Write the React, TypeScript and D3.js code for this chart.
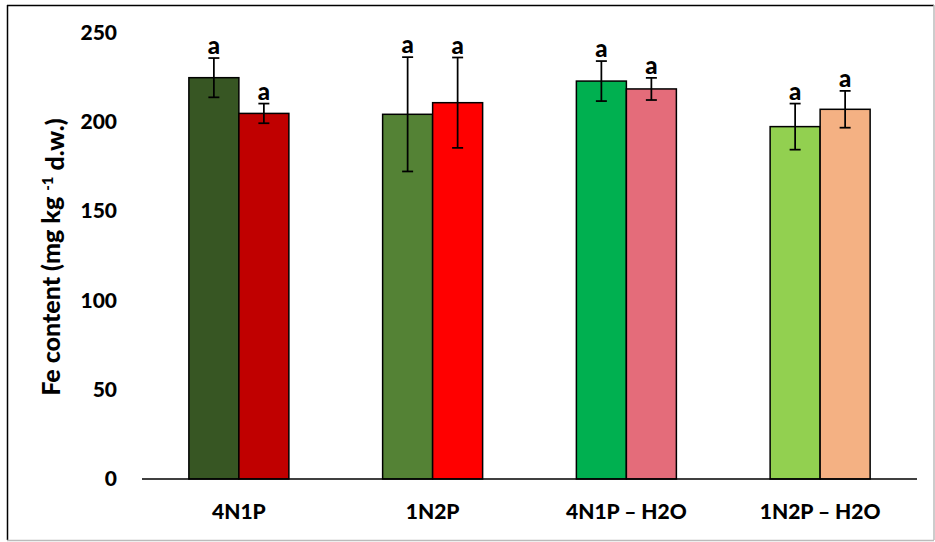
import {useEffect, useRef} from "react";
import * as d3 from "d3";

const categories = ["4N1P", "1N2P", "4N1P – H2O", "1N2P – H2O"];
const valuesA = [224.7, 204.2, 222.8, 197.3];
const errorsA = [11, 32, 11.2, 12.9];
const valuesB = [204.7, 210.7, 218.4, 207];
const errorsB = [5.5, 25.3, 6.2, 10.3];
const lettersA = ["a", "a", "a", "a"];
const lettersB = ["a", "a", "a", "a"];
const colorsA = ["#375623", "#548235", "#00B050", "#92D050"];
const colorsB = ["#C00000", "#FF0000", "#E46C7A", "#F4B183"];
const yTicks = [0, 50, 100, 150, 200, 250];

const FONT = "Lato, 'Open Sans', sans-serif";

function App() {
    const ref = useRef<SVGSVGElement>(null);

    useEffect(() => {
        const width = 935, height = 542;
        const svg = d3.select(ref.current)
            .attr("width", width)
            .attr("height", height);
        svg.selectAll("*").remove();

        // frame
        svg.append("rect").attr("x", 0).attr("y", 0).attr("width", width).attr("height", height).attr("fill", "#fff");
        svg.append("line").attr("x1", 7).attr("x2", 934).attr("y1", 5.5).attr("y2", 5.5).attr("stroke", "#000").attr("stroke-width", 1.5);
        svg.append("line").attr("x1", 7.5).attr("x2", 7.5).attr("y1", 5).attr("y2", 540).attr("stroke", "#000").attr("stroke-width", 1.5);
        svg.append("line").attr("x1", 7).attr("x2", 934).attr("y1", 540.5).attr("y2", 540.5).attr("stroke", "#bbb").attr("stroke-width", 1.5);
        svg.append("line").attr("x1", 934).attr("x2", 934).attr("y1", 5).attr("y2", 540).attr("stroke", "#bbb").attr("stroke-width", 1.5);

        const x = d3.scaleBand().domain(categories).range([142, 917]).padding(0);
        const y = d3.scaleLinear().domain([0, 250]).range([479, 32.5]);
        const barW = 50;

        // y tick labels
        svg.append("g")
            .selectAll("text")
            .data(yTicks)
            .enter()
            .append("text")
            .attr("x", 117)
            .attr("y", d => y(d))
            .attr("dy", "0.35em")
            .attr("text-anchor", "end")
            .style("font-family", FONT)
            .style("font-weight", "900")
            .style("font-size", "21px")
            .text(d => d);

        const bars = categories.flatMap((c, i) => [
            {cat: c, x0: x(c)! + x.bandwidth() / 2 - barW, v: valuesA[i], e: errorsA[i], color: colorsA[i], letter: lettersA[i]},
            {cat: c, x0: x(c)! + x.bandwidth() / 2, v: valuesB[i], e: errorsB[i], color: colorsB[i], letter: lettersB[i]},
        ]);

        svg.append("g")
            .selectAll("rect")
            .data(bars)
            .enter()
            .append("rect")
            .attr("x", d => d.x0)
            .attr("y", d => y(d.v))
            .attr("width", barW)
            .attr("height", d => y(0) - y(d.v))
            .attr("fill", d => d.color)
            .attr("stroke", "#000")
            .attr("stroke-width", 1.5);

        // error bars
        const eb = svg.append("g")
            .selectAll("g")
            .data(bars)
            .enter()
            .append("g")
            .attr("stroke", "#000")
            .attr("stroke-width", 1.75);
        eb.append("line")
            .attr("x1", d => d.x0 + barW / 2).attr("x2", d => d.x0 + barW / 2)
            .attr("y1", d => y(d.v + d.e)).attr("y2", d => y(d.v - d.e));
        eb.append("line")
            .attr("x1", d => d.x0 + barW / 2 - 5.5).attr("x2", d => d.x0 + barW / 2 + 5.5)
            .attr("y1", d => y(d.v + d.e)).attr("y2", d => y(d.v + d.e));
        eb.append("line")
            .attr("x1", d => d.x0 + barW / 2 - 5.5).attr("x2", d => d.x0 + barW / 2 + 5.5)
            .attr("y1", d => y(d.v - d.e)).attr("y2", d => y(d.v - d.e));

        // significance letters
        svg.append("g")
            .selectAll("text")
            .data(bars)
            .enter()
            .append("text")
            .attr("x", d => d.x0 + barW / 2)
            .attr("y", d => y(d.v + d.e) - 4)
            .attr("text-anchor", "middle")
            .style("font-family", FONT)
            .style("font-weight", "900")
            .style("font-size", "24px")
            .text(d => d.letter);

        // x axis line
        svg.append("line")
            .attr("x1", 142).attr("x2", 917)
            .attr("y1", y(0)).attr("y2", y(0))
            .attr("stroke", "#000").attr("stroke-width", 1.5);

        // category labels
        svg.append("g")
            .selectAll("text")
            .data(categories)
            .enter()
            .append("text")
            .attr("x", d => x(d)! + x.bandwidth() / 2)
            .attr("y", 512)
            .attr("dy", "0.35em")
            .attr("text-anchor", "middle")
            .style("font-family", FONT)
            .style("font-weight", "900")
            .style("font-size", "21px")
            .text(d => d);

        // y axis title
        const title = svg.append("text")
            .attr("transform", "translate(51,257) rotate(-90)")
            .attr("text-anchor", "middle")
            .attr("dy", "0.35em")
            .style("font-family", FONT)
            .style("font-weight", "900")
            .style("font-size", "25px");
        title.append("tspan").text("Fe content (mg kg ");
        title.append("tspan").attr("dy", "-0.45em").style("font-size", "15px").text("-1");
        title.append("tspan").attr("dy", "0.45em").text(" d.w.)");
    }, []);

    return <svg ref={ref} style={{position: "absolute", left: 0, top: 0}}></svg>;
}

export default App;
